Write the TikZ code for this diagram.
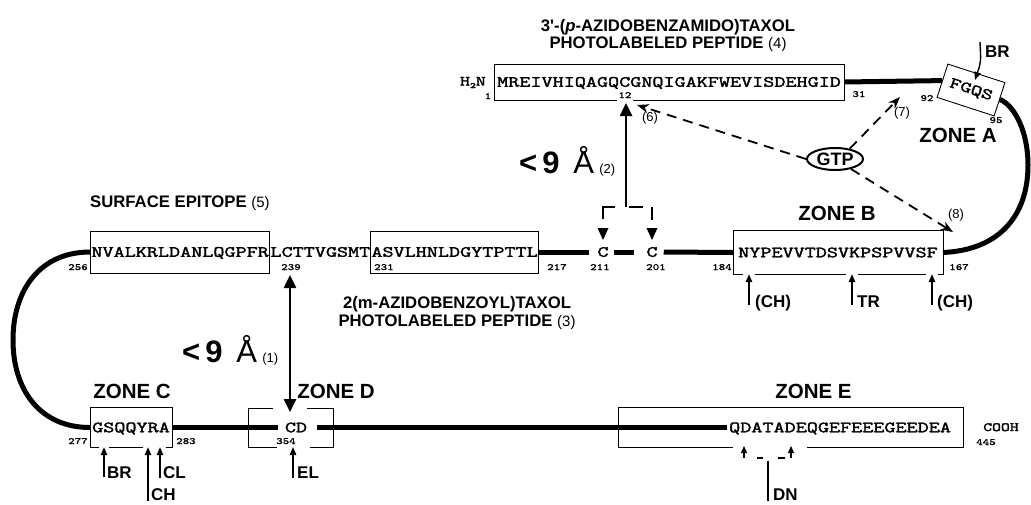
\documentclass[tikz,border=0pt]{standalone}
\usepackage{fontspec}
\setmainfont{Liberation Sans}
\newfontfamily\seqfont[FakeStretch=1.38,FakeBold=2.2]{Latin Modern Mono}
\newfontfamily\numfont[FakeStretch=1.3,FakeBold=0.8]{Latin Modern Mono}
\usetikzlibrary{arrows.meta,shapes.geometric}
\tikzset{
  boxline/.style={line width=0.9pt},
  backbone/.style={line width=5pt},
  seq/.style={font=\seqfont\fontsize{15.6}{16}\selectfont, text height=9.5pt, text depth=0pt, inner ysep=0pt, inner xsep=0pt},
  seqsmall/.style={font=\seqfont\fontsize{12.5}{13}\selectfont, text height=7pt, text depth=0pt, inner sep=0pt},
  num/.style={font=\numfont\fontsize{9.5}{10}\selectfont, text height=6pt, text depth=0pt, inner sep=0pt},
  lbl/.style={font=\bfseries\fontsize{16.7}{17.5}\selectfont, inner sep=0pt},
  zone/.style={font=\bfseries\fontsize{20.5}{22}\selectfont, inner sep=0pt},
  site/.style={font=\bfseries\fontsize{17}{18}\selectfont, inner sep=0pt},
  refn/.style={font=\fontsize{13}{14}\selectfont, inner sep=0pt},
  dist/.style={font=\bfseries\fontsize{31}{31}\selectfont, inner sep=0pt},
  sarrow/.style={line width=1.4pt, -{Triangle[length=8pt,width=6.5pt]}},
  tinyarrow/.style={line width=1.2pt, -{Triangle[length=7pt,width=6pt]}},
  barrow/.style={line width=2.5pt},
  darrow/.style={line width=1.8pt, dash pattern=on 10pt off 7pt, -{Stealth[length=12pt,width=9pt]}},
  brk/.style={line width=2pt}
}
\begin{document}
\begin{tikzpicture}[x=1pt,y=-1pt]
\useasboundingbox (0,0) rectangle (1031,504);

% ---------- titles ----------
\node[lbl, anchor=base] (t4a) at (668,31) {3\textquotesingle-(\textit{p}-AZIDOBENZAMIDO)TAXOL};
\node[lbl, anchor=base] (t4b) at (668,48.5) {PHOTOLABELED PEPTIDE {\mdseries\fontsize{15}{16}\selectfont(4)}};
\node[lbl, anchor=base west] (t5) at (90,207) {SURFACE EPITOPE {\mdseries\fontsize{15}{16}\selectfont(5)}};
\node[lbl, anchor=base] (t3a) at (457,308.5) {2(m-AZIDOBENZOYL)TAXOL};
\node[lbl, anchor=base] (t3b) at (457,326) {PHOTOLABELED PEPTIDE {\mdseries\fontsize{15}{16}\selectfont(3)}};

% ---------- row 1 ----------
\node[seqsmall, anchor=east, font=\seqfont\fontsize{14}{14}\selectfont] (h2n) at (486,82) {H\raisebox{-2.5pt}{\fontsize{8}{8}\selectfont 2}N};
\node[num] (n1) at (488,96) {1};
\node[seq, anchor=west] (s1) at (497,82) {MREIVHIQAGQCGNQIGAKFWEVISDEHGID};
\coordinate (b1L) at ([xshift=-3pt]s1.west);
\coordinate (b1R) at ([xshift=3pt]s1.east);
\draw[boxline] (617,100) -- (b1L |- 0,100) -- (b1L |- 0,64) -- (b1R |- 0,64) -- (b1R |- 0,100) -- (633,100);
\node[num] (n12) at (625,95) {12};
\node[num] (n31) at (859,94) {31};

\node[draw, boxline, rotate=-18, minimum width=60pt, minimum height=35pt, inner sep=0pt,
      font=\seqfont\fontsize{15.6}{16}\selectfont] (fg) at (971,90) {FGQS};
\node[num] (n92) at (927,98) {92};
\node[num] (n95) at (996,120) {95};
\draw[backbone] (b1R) -- (fg.west);

\node[site, anchor=base west] (brtop) at (985,57) {BR};
\coordinate (brT) at (980,42);
\coordinate (brH) at (975,80);
\draw[sarrow] (brT) .. controls (981,62) .. (brH);
\node[zone, anchor=base] (zA) at (958,142) {ZONE A};

% ---------- row 2 ----------
\node[seq, draw, boxline, anchor=west, inner xsep=1pt, minimum height=42pt] (s4) at (90,252) {NVALKRLDANLQGPFR};
\node[seq, anchor=west] (smid) at (s4.east) {LCTTVGSMT};
\node[seq, draw, boxline, anchor=west, inner xsep=0.5pt, minimum height=42pt] (s3) at (smid.east) {ASVLHNLDGYTPTTL};
\node[num] (n256) at (78,267) {256};
\node[num] (n239) at (291,267) {239};
\node[num] (n231) at (384,267) {231};
\node[num] (n217) at (557,267) {217};

\node[seq] (c211) at (603,252) {C};
\node[seq] (c201) at (652,252) {C};
\node[num] (n211) at (600,267) {211};
\node[num] (n201) at (656,267) {201};

\node[seq, anchor=west, inner xsep=5pt, minimum height=43pt] (bB) at (733,252.5) {NYPEVVTDSVKPSPVVSF};
\draw[boxline] (743,0 |- bB.south) -- (bB.south west) -- (bB.north west) -- (bB.north east) -- (bB.south east) -- (938,0 |- bB.south);
\draw[boxline] (755,0 |- bB.south) -- (846,0 |- bB.south);
\draw[boxline] (858,0 |- bB.south) -- (926,0 |- bB.south);
\node[num] (n184) at (722,267) {184};
\node[num] (n167) at (959,267) {167};
\node[zone, anchor=base] (zB) at (837,220) {ZONE B};

\draw[backbone] (s3.east) -- ([xshift=-8pt]c211.west);
\draw[backbone] ([xshift=5pt]c211.east) -- ([xshift=-12pt]c201.west);
\draw[backbone] ([xshift=6pt]c201.east) -- (bB.west);

% right loop
\draw[backbone] (fg.east) .. controls (1015,106) and (1028,132) .. (1028,165)
                 .. controls (1028,215) and (1000,250) .. (bB.east);

% bracket above C C
\draw[brk] (603,219) -- (603,207) -- (615,207);
\draw[brk] (629,207) -- (643,207);
\draw[brk] (652,207) -- (652,220);
\fill (597.5,228) -- (608.5,228) -- (603,240) -- cycle;
\fill (646.5,228) -- (657.5,228) -- (652,240) -- cycle;

% distance arrow (2)
\coordinate (a2bot) at (626,207);
\coordinate (a2top) at (626,103);
\draw[barrow, -{Triangle[length=13pt,width=12pt]}] (a2bot) -- (a2top);
\node[dist, anchor=base west] (d2) at (519,173) {<\,9\, {\mdseries Å}\,{\mdseries\fontsize{13}{13}\selectfont(2)}};

% zone B cleavage sites
\coordinate (chA) at (749,305);
\coordinate (trA) at (852,305);
\coordinate (chB) at (932,305);
\draw[sarrow] (chA) -- (chA |- bB.south);
\draw[sarrow] (trA) -- (trA |- bB.south);
\draw[sarrow] (chB) -- (chB |- bB.south);
\node[site, anchor=base west] (lchA) at (755,307) {(CH)};
\node[site, anchor=base west] (ltr) at (857,307) {TR};
\node[site, anchor=base west] (lchB) at (937,307) {(CH)};

% GTP
\node[draw, ellipse, line width=2pt, minimum width=56pt, minimum height=22pt, inner sep=0pt,
      font=\bfseries\fontsize{18}{18}\selectfont] (gtp) at (835,159) {GTP};
\coordinate (tip6) at (637,105);
\coordinate (tip7) at (900,97);
\coordinate (tip8) at (953,232);
\draw[darrow] (gtp.west) -- (tip6);
\draw[darrow] (gtp.35) -- (tip7);
\draw[darrow] (gtp.-32) -- (tip8);
\node[refn] (r6) at (650,118) {(6)};
\node[refn] (r7) at (902,113) {(7)};
\node[refn] (r8) at (956,215) {(8)};

% distance arrow (1)
\coordinate (a1top) at (290,275);
\coordinate (a1bot) at (290,412);
\draw[barrow, {Triangle[length=13pt,width=12pt]}-{Triangle[length=13pt,width=12pt]}] (a1top) -- (a1bot);
\node[dist, anchor=base west] (d1) at (182,362) {<\,9\, {\mdseries Å}\,{\mdseries\fontsize{13}{13}\selectfont(1)}};

% ---------- row 3 ----------
\node[seq, anchor=west, inner xsep=2pt, minimum height=39pt] (bC) at (90,427.5) {GSQQYRA};
\draw[boxline] (99,0 |- bC.south) -- (bC.south west) -- (bC.north west) -- (bC.north east) -- (bC.south east) -- (166,0 |- bC.south);
\draw[boxline] (109,0 |- bC.south) -- (143,0 |- bC.south);
\node[num] (n277) at (78,441) {277};
\node[num] (n283) at (186,441) {283};
\node[zone, anchor=base] (zC) at (132,398) {ZONE C};

\node[seq] (cd) at (296,427.5) {CD};
\draw[boxline] (273,408) -- (248,408) -- (248,447) -- (277,447);
\draw[boxline] (307,408) -- (333,408) -- (333,447) -- (310,447);
\node[num] (n354) at (286,441) {354};
\node[zone, anchor=base] (zD) at (336,398) {ZONE D};

\node[seq, anchor=west] (qe) at (729,427.5) {QDATADEQGEFEEEGEEDEA};
\draw[boxline] (733,447) -- (618,447) -- (618,407) -- (963,407) -- (963,447) -- (807,447);
\node[seqsmall, anchor=west] (cooh) at (983,427.5) {COOH};
\node[num] (n445) at (986,442) {445};
\node[zone, anchor=base] (zE) at (813.5,398) {ZONE E};

\draw[backbone] (bC.east) -- ([xshift=-7pt]cd.west);
\draw[backbone] ([xshift=10pt]cd.east) -- ([xshift=-2pt]qe.west);

% left loop
\draw[backbone] (s4.west) .. controls (40,252) and (13,290) .. (13,340)
                 .. controls (13,390) and (40,427.5) .. (bC.west);

% row 3 sites
\coordinate (brC) at (104,477);
\coordinate (chC) at (148,501);
\coordinate (clC) at (160,478);
\coordinate (elD) at (293,478);
\draw[sarrow] (brC) -- (brC |- bC.south);
\draw[sarrow] (chC) -- (chC |- bC.south);
\draw[sarrow] (clC) -- (clC |- bC.south);
\draw[sarrow] (elD) -- (293,447);
\node[site, anchor=base west] (lbr) at (107,478) {BR};
\node[site, anchor=base west] (lch) at (151,500.5) {CH};
\node[site, anchor=base west] (lcl) at (163,478) {CL};
\node[site, anchor=base west] (lel) at (297,478) {EL};

% DN
\coordinate (dnA) at (744,458);
\coordinate (dnB) at (791,458);
\draw[tinyarrow] (dnA) -- (744,446);
\draw[tinyarrow] (dnB) -- (791,446);
\draw[line width=1.2pt] (757,458) -- (763,458);
\draw[line width=1.2pt] (778,458) -- (785,458);
\draw[line width=1.2pt] (768,461) -- (768,501);
\node[site, anchor=base west] (ldn) at (773,500.5) {DN};
\end{tikzpicture}
\end{document}
